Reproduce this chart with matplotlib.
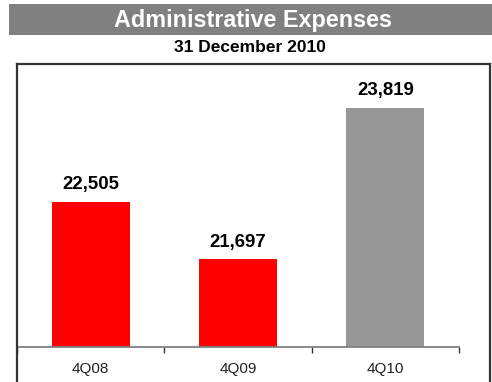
import matplotlib
matplotlib.use("Agg")
import matplotlib.pyplot as plt
from matplotlib.lines import Line2D
from matplotlib.patches import Rectangle

plt.rcParams["font.family"] = ["Liberation Sans", "DejaVu Sans"]

# ── data ──────────────────────────────────────────────────────────────────────
quarters = ["4Q08", "4Q09", "4Q10"]
expenses = [22505, 21697, 23819]
bar_colors = ["#FF0000", "#FF0000", "#969696"]

TITLE = "Administrative Expenses"
SUBTITLE = "31 December 2010"

W, H = 492, 382
fig = plt.figure(figsize=(W / 100, H / 100), dpi=100)


def fx(px):
    return px / W


def fy(py):
    return 1 - py / H


# ── title banner ──────────────────────────────────────────────────────────────
fig.patches.append(Rectangle((fx(9), fy(35)), fx(492) - fx(9), fy(4) - fy(35),
                             transform=fig.transFigure, facecolor="#808080",
                             edgecolor="none", zorder=0))
fig.text(fx(253), fy(20), TITLE, color="white", fontsize=16.8, fontweight="bold",
         ha="center", va="center")
fig.text(fx(250), fy(47), SUBTITLE, color="black", fontsize=12.5, fontweight="bold",
         ha="center", va="center")

# ── outer frame (open at the bottom) ──────────────────────────────────────────
frame_kw = dict(transform=fig.transFigure, color="#333333", linewidth=1.6)
fig.lines.append(Line2D([fx(17), fx(17)], [fy(64), 0], **frame_kw))
fig.lines.append(Line2D([fx(490), fx(490)], [fy(64), 0], **frame_kw))
fig.lines.append(Line2D([fx(17), fx(490)], [fy(64), fy(64)], **frame_kw))

# ── bars ──────────────────────────────────────────────────────────────────────
ax = fig.add_axes([fx(17), fy(347), fx(459) - fx(17), fy(64) - fy(347)])
ax.set_facecolor("none")
x = list(range(len(quarters)))
ax.bar(x, expenses, width=0.53, color=bar_colors, edgecolor="none")

for xi, val in zip(x, expenses):
    ax.annotate(f"{val:,}", (xi, val), xytext=(0, 9), textcoords="offset points",
                ha="center", va="baseline", fontsize=13.4, fontweight="bold")

ax.set_xlim(-0.5, 2.5)
ax.set_ylim(20470, 24434)
ax.set_yticks([])

for s in ["top", "right", "left"]:
    ax.spines[s].set_visible(False)
ax.spines["bottom"].set_color("#808080")
ax.spines["bottom"].set_linewidth(1.3)

ax.set_xticks(x)
ax.set_xticklabels(quarters, fontsize=11)
ax.tick_params(axis="x", which="major", length=0, pad=10.5, colors="#222222")
ax.set_xticks([-0.5, 0.5, 1.5, 2.5], minor=True)
ax.tick_params(axis="x", which="minor", length=4, width=1.0, color="#333333")

fig.savefig("out.png", dpi=100)
